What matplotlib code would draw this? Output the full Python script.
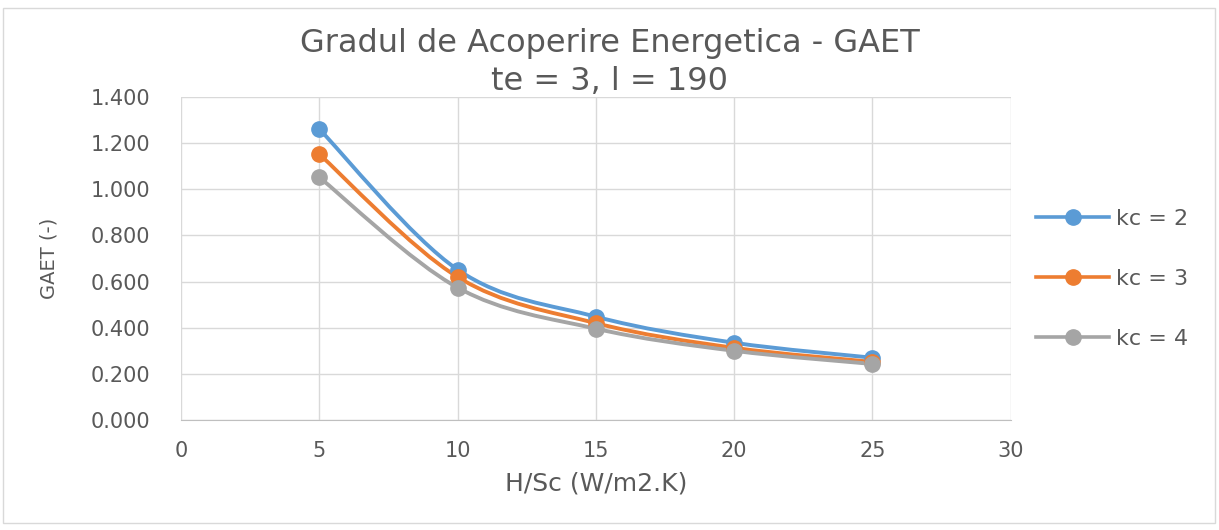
import matplotlib
matplotlib.use("Agg")
import matplotlib.pyplot as plt
import numpy as np
from matplotlib.path import Path
from matplotlib.patches import PathPatch, Rectangle
from matplotlib.lines import Line2D

plt.rcParams['font.family'] = ['DejaVu Sans']

# Données
h_sc = [5, 10, 15, 20, 25]
gaet_kc2 = [1.261, 0.652, 0.448, 0.335, 0.270]
gaet_kc3 = [1.152, 0.620, 0.420, 0.313, 0.252]
gaet_kc4 = [1.052, 0.574, 0.396, 0.300, 0.243]
labels = ["kc = 2", "kc = 3", "kc = 4"]
couleurs = ["#5B9BD5", "#ED7D31", "#A5A5A5"]

gris = "#595959"


def courbe_lisse(x, y):
    # courbe de Bézier passant par les points (lissage type Excel)
    pts = np.column_stack([x, y]).astype(float)
    verts = [pts[0]]
    codes = [Path.MOVETO]
    t = 1 / 6
    for i in range(len(pts) - 1):
        p0 = pts[i - 1] if i > 0 else pts[i]
        p1 = pts[i]
        p2 = pts[i + 1]
        p3 = pts[i + 2] if i + 2 < len(pts) else pts[i + 1]
        c1 = p1 + (p2 - p0) * t
        c2 = p2 - (p3 - p1) * t
        verts += [c1, c2, p2]
        codes += [Path.CURVE4] * 3
    return Path(verts, codes)


fig = plt.figure(figsize=(12.19, 5.30), dpi=100)
fig.patches.append(Rectangle((0.0025, 0.013), 0.994, 0.972, transform=fig.transFigure,
                             fill=False, edgecolor="#D9D9D9", linewidth=1))

ax = fig.add_axes([0.1485, 0.2075, 0.6805, 0.6095])

for y, lab, c in zip([gaet_kc2, gaet_kc3, gaet_kc4], labels, couleurs):
    ax.add_patch(PathPatch(courbe_lisse(h_sc, y), facecolor="none", edgecolor=c,
                           linewidth=2.8, capstyle="round", zorder=3))
    ax.plot(h_sc, y, linestyle="none", marker="o", markersize=11, color=c, zorder=4)

ax.set_xlim(0, 30)
ax.set_ylim(0, 1.4)
ax.set_xticks(range(0, 31, 5))
ax.set_yticks(np.arange(0, 1.41, 0.2))
ax.set_yticklabels([f"{v:.3f}" for v in np.arange(0, 1.41, 0.2)])
ax.grid(True, color="#D9D9D9", linewidth=1)
ax.set_axisbelow(True)
for s in ["top", "right", "left"]:
    ax.spines[s].set_visible(False)
ax.spines["bottom"].set_color("#BFBFBF")
ax.tick_params(length=0, labelsize=15, colors=gris)
ax.tick_params(axis="y", pad=22)
ax.tick_params(axis="x", pad=15)

ax.set_xlabel("H/Sc (W/m2.K)", fontsize=18, color=gris, labelpad=8)
ax.set_ylabel("GAET (-)", fontsize=14, color=gris, labelpad=23)

fig.text(0.5, 0.902, "Gradul de Acoperire Energetica - GAET", ha="center", va="baseline",
         fontsize=23, color=gris)
fig.text(0.5, 0.830, "te = 3, l = 190", ha="center", va="baseline", fontsize=23, color=gris)

handles = [Line2D([0], [0], color=c, linewidth=2.6, marker="o", markersize=11) for c in couleurs]
fig.legend(handles, labels, loc="center left", bbox_to_anchor=(0.85, 0.4745), frameon=False,
           fontsize=16, labelcolor=gris, handlelength=3.3, handletextpad=0.3,
           labelspacing=1.8, borderpad=0, borderaxespad=0)

plt.savefig("out.png", dpi=100)
